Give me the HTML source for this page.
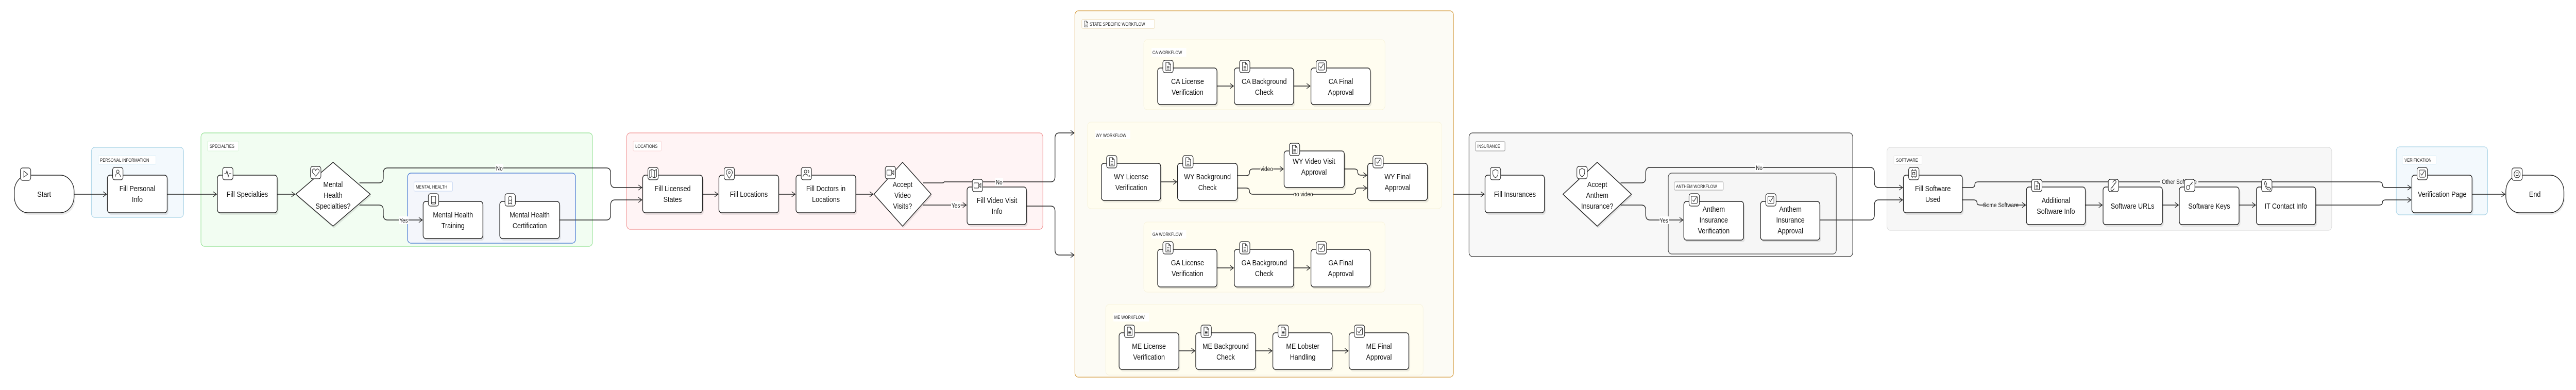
<!DOCTYPE html>
<html><head><meta charset="utf-8"><style>
html,body{margin:0;padding:0;background:#fff;width:100%;height:100%;overflow:hidden;}
svg{display:block;width:100vw;height:100vh;font-family:"Liberation Sans",sans-serif;}
.n{fill:#fff;stroke:#222;stroke-width:1.5}
.sh{fill:#000;opacity:.08}
.t{font-size:15px;fill:#111;text-anchor:middle}
.tg{fill:#fff;stroke:#222;stroke-width:1.2}
.ic{fill:none;stroke:#222;stroke-width:1.1}
.e{fill:none;stroke:#222;stroke-width:1.5}
.el{font-size:12px;fill:#111;text-anchor:middle}
.lb{font-size:9px;fill:#222}
</style></head><body>
<svg viewBox="0 0 5948 757" preserveAspectRatio="none" xmlns="http://www.w3.org/2000/svg">
<defs>
<marker id="a" markerWidth="10" markerHeight="12" refX="9" refY="6" orient="auto" markerUnits="userSpaceOnUse"><path d="M1,1 L9,6 L1,11" fill="none" stroke="#222" stroke-width="1.3"/></marker>
<symbol id="doc" viewBox="0 0 24 24"><path class="ic" d="M7,4 H14 L18,8 V20 H7 Z M14,4 V8 H18 M9.5,12 H15 M9.5,14.5 H15 M9.5,17 H15"/></symbol>
<symbol id="chk" viewBox="0 0 24 24"><rect class="ic" x="5" y="5" width="14" height="14" rx="2"/><path class="ic" d="M8,12 L11,15 L17,7"/></symbol>
<symbol id="shd" viewBox="0 0 24 24"><path class="ic" d="M12,4 L18,6.5 V12 Q18,17 12,20 Q6,17 6,12 V6.5 Z"/></symbol>
</defs>

<rect x="211" y="286" width="213" height="136" rx="8" fill="#f3f9fd" stroke="#a9d3e6" stroke-width="1.2"/>
<rect x="227" y="302" width="133" height="17" rx="2" fill="#fff" stroke="#dbeef7"/><text class="lb" x="231" y="314">PERSONAL INFORMATION</text>

<rect x="464" y="258" width="904" height="220" rx="8" fill="#f2fdf2" stroke="#8fe08f" stroke-width="1.2"/>
<rect x="479" y="274" width="72" height="19" rx="2" fill="#fff" stroke="#d8f5d8"/><text class="lb" x="484" y="287">SPECIALTIES</text>

<rect x="1447" y="258" width="961" height="187" rx="8" fill="#fff4f5" stroke="#f09090" stroke-width="1.2"/>
<rect x="1462" y="274" width="65" height="19" rx="2" fill="#fff" stroke="#f8d4d4"/><text class="lb" x="1467" y="287">LOCATIONS</text>

<rect x="2482" y="21" width="874" height="711" rx="8" fill="#fcfbf5" stroke="#d49a3e" stroke-width="1.3"/>
<rect x="2498" y="38" width="168" height="17" rx="2" fill="#fff" stroke="#ecd7ae"/>
<use href="#doc" x="2499" y="37" width="17" height="19"/><text class="lb" x="2516" y="50">STATE SPECIFIC WORKFLOW</text>

<rect x="2641" y="77" width="557" height="136" rx="8" fill="#fffdf0" stroke="#f7f3dc"/>
<rect x="2659" y="93" width="80" height="17" fill="#fff"/><text class="lb" x="2661" y="105">CA WORKFLOW</text>
<rect x="2511" y="237" width="818" height="168" rx="8" fill="#fffdf0" stroke="#f7f3dc"/>
<rect x="2528" y="253" width="82" height="17" fill="#fff"/><text class="lb" x="2530" y="266">WY WORKFLOW</text>
<rect x="2641" y="431" width="557" height="136" rx="8" fill="#fffdf0" stroke="#f7f3dc"/>
<rect x="2659" y="446" width="80" height="17" fill="#fff"/><text class="lb" x="2661" y="458">GA WORKFLOW</text>
<rect x="2553" y="591" width="733" height="137" rx="8" fill="#fffdf0" stroke="#f7f3dc"/>
<rect x="2571" y="607" width="82" height="17" fill="#fff"/><text class="lb" x="2573" y="619">ME WORKFLOW</text>

<rect x="3392" y="258" width="886" height="240" rx="8" fill="#f8f8f8" stroke="#333" stroke-width="1.3"/>
<rect x="3407" y="275" width="68" height="18" rx="2" fill="#fff" stroke="#888"/><text class="lb" x="3411" y="287">INSURANCE</text>

<rect x="4357" y="286" width="1027" height="161" rx="8" fill="#f7f7f7" stroke="#ddd" stroke-width="1.2"/>
<rect x="4373" y="302" width="65" height="17" rx="2" fill="#fff" stroke="#e6e6e6"/><text class="lb" x="4378" y="314">SOFTWARE</text>

<rect x="5533" y="285" width="211" height="132" rx="8" fill="#f3f9fd" stroke="#a9d3e6" stroke-width="1.2"/>
<rect x="5547" y="302" width="78" height="17" rx="2" fill="#fff" stroke="#dbeef7"/><text class="lb" x="5552" y="314">VERIFICATION</text>

<g class="e" marker-end="url(#a)">
<path d="M171,377 H246"/>
<path d="M386,377 H500"/>
<path d="M639,377 H681"/>
<path d="M830,355 H875 Q885,355 885,345 V336 Q885,326 895,326 H1400 Q1410,326 1410,336 V354 Q1410,364 1420,364 H1482"/>
<path d="M830,398 H875 Q885,398 885,408 V417 Q885,427 895,427 H975"/>
<path d="M1115,427 H1152"/>
<path d="M1292,427 H1400 Q1410,427 1410,417 V398 Q1410,388 1420,388 H1482"/>
<path d="M1622,377 H1658"/>
<path d="M1798,377 H1836"/>
<path d="M1975,377 H2016"/>
<path d="M2131,355 H2175 Q2180,355 2180,353 H2426 Q2436,353 2436,343 V268 Q2436,258 2446,258 H2480"/>
<path d="M2131,398 H2231"/>
<path d="M2370,400 H2426 Q2436,400 2436,410 V485 Q2436,495 2446,495 H2480"/>
<path d="M3356,377 H3427"/>
<path d="M3742,355 H3790 Q3800,355 3800,345 V335 Q3800,325 3810,325 H4318 Q4328,325 4328,335 V354 Q4328,364 4338,364 H4393"/>
<path d="M3742,398 H3790 Q3800,398 3800,408 V417 Q3800,427 3810,427 H3886"/>
<path d="M4202,427 H4318 Q4328,427 4328,417 V398 Q4328,388 4338,388 H4393"/>
<path d="M4531,364 H4552 Q4560,364 4560,358 Q4560,353 4568,353 H5493 Q5501,353 5501,359 Q5501,364 5509,364 H5567"/>
<path d="M4531,388 H4557 Q4565,388 4565,394 Q4565,398 4573,398 H4677"/>
<path d="M4815,398 H4854"/>
<path d="M4993,398 H5030"/>
<path d="M5170,398 H5208"/>
<path d="M5347,398 H5493 Q5501,398 5501,393 Q5501,388 5509,388 H5567"/>
<path d="M5708,377 H5784"/>
<path d="M2810,167 H2848"/><path d="M2987,167 H3025"/>
<path d="M2810,520 H2848"/><path d="M2987,520 H3025"/>
<path d="M2722,681 H2759"/><path d="M2899,681 H2937"/><path d="M3076,681 H3113"/>
<path d="M2680,353 H2717"/>
<path d="M2857,341 H2877 Q2885,341 2885,335 Q2885,328 2893,328 H2963"/>
<path d="M2857,365 H2877 Q2885,365 2885,371 Q2885,377 2893,377 H3122 Q3130,377 3130,371 Q3130,365 3138,365 H3156"/>
<path d="M3104,328 H3127 Q3135,328 3135,334 Q3135,340 3143,340 H3156"/>
</g>

<rect x="941" y="336" width="388" height="136" rx="8" fill="#f4f6fb" stroke="#3a6fd0" stroke-width="1.3"/>
<rect x="956" y="353" width="89" height="18" rx="2" fill="#fff" stroke="#c4d4f2"/><text class="lb" x="960" y="366">MENTAL HEALTH</text>
<path class="e" d="M941,427 H975" marker-end="url(#a)"/>
<path class="e" d="M1292,427 H1329"/>
<rect x="3852" y="336" width="388" height="157" rx="8" fill="#f6f6f6" stroke="#444" stroke-width="1.3"/>
<rect x="3866" y="353" width="113" height="16" rx="2" fill="#fff" stroke="#999"/><text class="lb" x="3870" y="365">ANTHEM WORKFLOW</text>
<path class="e" d="M3852,427 H3886" marker-end="url(#a)"/>
<path class="e" d="M4202,427 H4240"/>

<g>
<rect x="1144" y="318" width="18" height="16" fill="#fff"/><text class="el" x="1153" y="331">No</text>
<rect x="921" y="420" width="22" height="15" fill="#fff"/><text class="el" x="932" y="432">Yes</text>
<rect x="2298" y="345" width="18" height="16" fill="#fff"/><text class="el" x="2307" y="358">No</text>
<rect x="2196" y="391" width="22" height="15" fill="#fff"/><text class="el" x="2207" y="403">Yes</text>
<rect x="4053" y="317" width="18" height="16" fill="#fff"/><text class="el" x="4062" y="330">No</text>
<rect x="3832" y="420" width="22" height="15" fill="#fff"/><text class="el" x="3842" y="432">Yes</text>
<rect x="4988" y="345" width="88" height="16" fill="#f7f7f7"/><text class="el" x="5032" y="357">Other Software</text>
<rect x="4587" y="390" width="66" height="15" fill="#f7f7f7"/><text class="el" x="4620" y="402">Some Software</text>
<rect x="2910" y="320" width="30" height="15" fill="#fffdf0"/><text class="el" x="2925" y="332">video</text>
<rect x="2988" y="370" width="42" height="14" fill="#fffdf0"/><text class="el" x="3009" y="381">no video</text>
</g>

<g transform="translate(33,340)"><rect class="sh" x="3" y="4" width="138" height="73" rx="32"/><rect class="n" width="138" height="73" rx="32"/>
<rect class="tg" x="14" y="-14" width="24" height="24" rx="5"/><path class="ic" d="M22,-8 L31,-2 L22,4 Z"/>
<text class="t" x="69" y="42">Start</text></g>

<g transform="translate(248,340)"><rect class="sh" x="3" y="4" width="138" height="73" rx="6"/><rect class="n" width="138" height="73" rx="6"/>
<rect class="tg" x="12" y="-15" width="24" height="24" rx="5"/><circle class="ic" cx="24" cy="-7" r="3"/><path class="ic" d="M18,4 Q18,-3 24,-3 Q30,-3 30,4"/>
<text class="t" x="69" y="31">Fill Personal</text><text class="t" x="69" y="52">Info</text></g>

<g transform="translate(502,340)"><rect class="sh" x="3" y="4" width="138" height="73" rx="6"/><rect class="n" width="138" height="73" rx="6"/>
<rect class="tg" x="12" y="-15" width="24" height="24" rx="5"/><path class="ic" d="M16,-3 H20 L22,-9 L25,3 L27,-3 H32"/>
<text class="t" x="69" y="42">Fill Specialties</text></g>

<g><path d="M771,318 L857,381 L771,443 L685,381 Z" class="sh"/><path class="n" d="M769,315 L855,377 L769,439 L683,377 Z"/>
<rect class="tg" x="717" y="323" width="24" height="24" rx="5"/><path class="ic" d="M729,342 L722,335 Q719,330 724,328 Q727,327 729,331 Q731,327 734,328 Q739,330 736,335 Z"/>
<text class="t" x="769" y="363">Mental</text><text class="t" x="769" y="384">Health</text><text class="t" x="769" y="405">Specialties?</text></g>

<g transform="translate(977,391)"><rect class="sh" x="3" y="4" width="138" height="72" rx="6"/><rect class="n" width="138" height="72" rx="6"/>
<rect class="tg" x="12" y="-15" width="24" height="24" rx="5"/><rect class="ic" x="19" y="-10" width="10" height="15" rx="1.5"/><path class="ic" d="M19,2 H29"/>
<text class="t" x="69" y="31">Mental Health</text><text class="t" x="69" y="52">Training</text></g>
<g transform="translate(1154,391)"><rect class="sh" x="3" y="4" width="138" height="72" rx="6"/><rect class="n" width="138" height="72" rx="6"/>
<rect class="tg" x="12" y="-15" width="24" height="24" rx="5"/><circle class="ic" cx="24" cy="-6" r="4"/><path class="ic" d="M21,-3 L20,5 L24,3 L28,5 L27,-3"/>
<text class="t" x="69" y="31">Mental Health</text><text class="t" x="69" y="52">Certification</text></g>

<g transform="translate(1484,340)"><rect class="sh" x="3" y="4" width="138" height="73" rx="6"/><rect class="n" width="138" height="73" rx="6"/>
<rect class="tg" x="12" y="-15" width="24" height="24" rx="5"/><path class="ic" d="M16,-9 L21,-11 L27,-9 L32,-11 V3 L27,5 L21,3 L16,5 Z M21,-11 V3 M27,-9 V5"/>
<text class="t" x="69" y="31">Fill Licensed</text><text class="t" x="69" y="52">States</text></g>
<g transform="translate(1660,340)"><rect class="sh" x="3" y="4" width="138" height="73" rx="6"/><rect class="n" width="138" height="73" rx="6"/>
<rect class="tg" x="12" y="-15" width="24" height="24" rx="5"/><path class="ic" d="M24,6 Q17,-2 17,-5 Q17,-11 24,-11 Q31,-11 31,-5 Q31,-2 24,6 Z"/><circle class="ic" cx="24" cy="-5" r="2"/>
<text class="t" x="69" y="42">Fill Locations</text></g>
<g transform="translate(1838,340)"><rect class="sh" x="3" y="4" width="138" height="73" rx="6"/><rect class="n" width="138" height="73" rx="6"/>
<rect class="tg" x="12" y="-15" width="24" height="24" rx="5"/><circle class="ic" cx="22" cy="-7" r="3"/><path class="ic" d="M16,4 Q16,-2 22,-2 Q28,-2 28,4 M27,-10 Q31,-9 29,-4 M30,0 Q32,1 32,4"/>
<text class="t" x="69" y="31">Fill Doctors in</text><text class="t" x="69" y="52">Locations</text></g>

<g><path d="M2086,318 L2152,381 L2086,443 L2020,381 Z" class="sh"/><path class="n" d="M2084,315 L2150,377 L2084,439 L2018,377 Z"/>
<rect class="tg" x="2044" y="323" width="24" height="24" rx="5"/><rect class="ic" x="2048" y="330" width="11" height="10" rx="1.5"/><path class="ic" d="M2059,335 L2064,331 V339 Z"/>
<text class="t" x="2084" y="363">Accept</text><text class="t" x="2084" y="384">Video</text><text class="t" x="2084" y="405">Visits?</text></g>

<g transform="translate(2233,363)"><rect class="sh" x="3" y="4" width="137" height="73" rx="6"/><rect class="n" width="137" height="73" rx="6"/>
<rect class="tg" x="12" y="-15" width="24" height="24" rx="5"/><rect class="ic" x="16" y="-8" width="11" height="10" rx="1.5"/><path class="ic" d="M27,-3 L32,-7 V1 Z"/>
<text class="t" x="69" y="31">Fill Video Visit</text><text class="t" x="69" y="52">Info</text></g>

<g transform="translate(2673,132)"><rect class="sh" x="3" y="4" width="137" height="71" rx="6"/><rect class="n" width="137" height="71" rx="6"/><rect class="tg" x="12" y="-15" width="24" height="24" rx="5"/><use href="#doc" x="12" y="-15" width="24" height="24"/><text class="t" x="69" y="31">CA License</text><text class="t" x="69" y="52">Verification</text></g>
<g transform="translate(2850,132)"><rect class="sh" x="3" y="4" width="137" height="71" rx="6"/><rect class="n" width="137" height="71" rx="6"/><rect class="tg" x="12" y="-15" width="24" height="24" rx="5"/><use href="#doc" x="12" y="-15" width="24" height="24"/><text class="t" x="69" y="31">CA Background</text><text class="t" x="69" y="52">Check</text></g>
<g transform="translate(3027,132)"><rect class="sh" x="3" y="4" width="137" height="71" rx="6"/><rect class="n" width="137" height="71" rx="6"/><rect class="tg" x="12" y="-15" width="24" height="24" rx="5"/><use href="#chk" x="12" y="-15" width="24" height="24"/><text class="t" x="69" y="31">CA Final</text><text class="t" x="69" y="52">Approval</text></g>
<g transform="translate(2543,317)"><rect class="sh" x="3" y="4" width="137" height="72" rx="6"/><rect class="n" width="137" height="72" rx="6"/><rect class="tg" x="12" y="-15" width="24" height="24" rx="5"/><use href="#doc" x="12" y="-15" width="24" height="24"/><text class="t" x="69" y="31">WY License</text><text class="t" x="69" y="52">Verification</text></g>
<g transform="translate(2719,317)"><rect class="sh" x="3" y="4" width="138" height="72" rx="6"/><rect class="n" width="138" height="72" rx="6"/><rect class="tg" x="12" y="-15" width="24" height="24" rx="5"/><use href="#doc" x="12" y="-15" width="24" height="24"/><text class="t" x="69" y="31">WY Background</text><text class="t" x="69" y="52">Check</text></g>
<g transform="translate(2965,293)"><rect class="sh" x="3" y="4" width="139" height="71" rx="6"/><rect class="n" width="139" height="71" rx="6"/><rect class="tg" x="12" y="-15" width="24" height="24" rx="5"/><use href="#doc" x="12" y="-15" width="24" height="24"/><text class="t" x="69" y="25">WY Video Visit</text><text class="t" x="69" y="46">Approval</text></g>
<g transform="translate(3158,317)"><rect class="sh" x="3" y="4" width="138" height="72" rx="6"/><rect class="n" width="138" height="72" rx="6"/><rect class="tg" x="12" y="-15" width="24" height="24" rx="5"/><use href="#chk" x="12" y="-15" width="24" height="24"/><text class="t" x="69" y="31">WY Final</text><text class="t" x="69" y="52">Approval</text></g>
<g transform="translate(2673,484)"><rect class="sh" x="3" y="4" width="137" height="73" rx="6"/><rect class="n" width="137" height="73" rx="6"/><rect class="tg" x="12" y="-15" width="24" height="24" rx="5"/><use href="#doc" x="12" y="-15" width="24" height="24"/><text class="t" x="69" y="31">GA License</text><text class="t" x="69" y="52">Verification</text></g>
<g transform="translate(2850,484)"><rect class="sh" x="3" y="4" width="137" height="73" rx="6"/><rect class="n" width="137" height="73" rx="6"/><rect class="tg" x="12" y="-15" width="24" height="24" rx="5"/><use href="#doc" x="12" y="-15" width="24" height="24"/><text class="t" x="69" y="31">GA Background</text><text class="t" x="69" y="52">Check</text></g>
<g transform="translate(3027,484)"><rect class="sh" x="3" y="4" width="137" height="73" rx="6"/><rect class="n" width="137" height="73" rx="6"/><rect class="tg" x="12" y="-15" width="24" height="24" rx="5"/><use href="#chk" x="12" y="-15" width="24" height="24"/><text class="t" x="69" y="31">GA Final</text><text class="t" x="69" y="52">Approval</text></g>
<g transform="translate(2584,646)"><rect class="sh" x="3" y="4" width="138" height="71" rx="6"/><rect class="n" width="138" height="71" rx="6"/><rect class="tg" x="12" y="-15" width="24" height="24" rx="5"/><use href="#doc" x="12" y="-15" width="24" height="24"/><text class="t" x="69" y="31">ME License</text><text class="t" x="69" y="52">Verification</text></g>
<g transform="translate(2761,646)"><rect class="sh" x="3" y="4" width="138" height="71" rx="6"/><rect class="n" width="138" height="71" rx="6"/><rect class="tg" x="12" y="-15" width="24" height="24" rx="5"/><use href="#doc" x="12" y="-15" width="24" height="24"/><text class="t" x="69" y="31">ME Background</text><text class="t" x="69" y="52">Check</text></g>
<g transform="translate(2939,646)"><rect class="sh" x="3" y="4" width="137" height="71" rx="6"/><rect class="n" width="137" height="71" rx="6"/><rect class="tg" x="12" y="-15" width="24" height="24" rx="5"/><use href="#doc" x="12" y="-15" width="24" height="24"/><text class="t" x="69" y="31">ME Lobster</text><text class="t" x="69" y="52">Handling</text></g>
<g transform="translate(3115,646)"><rect class="sh" x="3" y="4" width="138" height="71" rx="6"/><rect class="n" width="138" height="71" rx="6"/><rect class="tg" x="12" y="-15" width="24" height="24" rx="5"/><use href="#chk" x="12" y="-15" width="24" height="24"/><text class="t" x="69" y="31">ME Final</text><text class="t" x="69" y="52">Approval</text></g>

<g transform="translate(3429,340)"><rect class="sh" x="3" y="4" width="137" height="73" rx="6"/><rect class="n" width="137" height="73" rx="6"/><rect class="tg" x="12" y="-15" width="24" height="24" rx="5"/><use href="#shd" x="12" y="-15" width="24" height="24"/><text class="t" x="69" y="42">Fill Insurances</text></g>
<g><path d="M3690,318 L3769,381 L3690,443 L3611,381 Z" class="sh"/><path class="n" d="M3688,315 L3767,377 L3688,439 L3609,377 Z"/>
<rect class="tg" x="3641" y="323" width="24" height="24" rx="5"/><use href="#shd" x="3641" y="323" width="24" height="24"/>
<text class="t" x="3688" y="363">Accept</text><text class="t" x="3688" y="384">Anthem</text><text class="t" x="3688" y="405">Insurance?</text></g>
<g transform="translate(3888,391)"><rect class="sh" x="3" y="4" width="138" height="75" rx="6"/><rect class="n" width="138" height="75" rx="6"/><rect class="tg" x="12" y="-15" width="24" height="24" rx="5"/><use href="#chk" x="12" y="-15" width="24" height="24"/><text class="t" x="69" y="20">Anthem</text><text class="t" x="69" y="41">Insurance</text><text class="t" x="69" y="62">Verification</text></g>
<g transform="translate(4065,391)"><rect class="sh" x="3" y="4" width="137" height="75" rx="6"/><rect class="n" width="137" height="75" rx="6"/><rect class="tg" x="12" y="-15" width="24" height="24" rx="5"/><use href="#chk" x="12" y="-15" width="24" height="24"/><text class="t" x="69" y="20">Anthem</text><text class="t" x="69" y="41">Insurance</text><text class="t" x="69" y="62">Approval</text></g>

<g transform="translate(4395,340)"><rect class="sh" x="3" y="4" width="136" height="73" rx="6"/><rect class="n" width="136" height="73" rx="6"/><rect class="tg" x="12" y="-15" width="24" height="24" rx="5"/><rect class="ic" x="18" y="-9" width="12" height="12" rx="1"/><rect class="ic" x="21.5" y="-5.5" width="5" height="5"/><path class="ic" d="M21,-12 V-9 M27,-12 V-9 M21,3 V6 M27,3 V6"/><text class="t" x="68" y="31">Fill Software</text><text class="t" x="68" y="52">Used</text></g>
<g transform="translate(4679,363)"><rect class="sh" x="3" y="4" width="136" height="73" rx="6"/><rect class="n" width="136" height="73" rx="6"/><rect class="tg" x="12" y="-15" width="24" height="24" rx="5"/><use href="#doc" x="12" y="-15" width="24" height="24"/><text class="t" x="68" y="31">Additional</text><text class="t" x="68" y="52">Software Info</text></g>
<g transform="translate(4856,363)"><rect class="sh" x="3" y="4" width="137" height="73" rx="6"/><rect class="n" width="137" height="73" rx="6"/><rect class="tg" x="12" y="-15" width="24" height="24" rx="5"/><path class="ic" d="M22,-1 L19,2 Q17,4 19,6 Q21,8 23,6 L26,3 M26,-5 L29,-8 Q31,-10 29,-12 Q27,-14 25,-12 L22,-9 M21,1 L27,-7"/><text class="t" x="68" y="42">Software URLs</text></g>
<g transform="translate(5032,363)"><rect class="sh" x="3" y="4" width="138" height="73" rx="6"/><rect class="n" width="138" height="73" rx="6"/><rect class="tg" x="12" y="-15" width="24" height="24" rx="5"/><circle class="ic" cx="20" cy="1" r="4"/><path class="ic" d="M23,-2 L31,-10 M28,-7 L30,-5"/><text class="t" x="69" y="42">Software Keys</text></g>
<g transform="translate(5210,363)"><rect class="sh" x="3" y="4" width="137" height="73" rx="6"/><rect class="n" width="137" height="73" rx="6"/><rect class="tg" x="12" y="-15" width="24" height="24" rx="5"/><path class="ic" d="M18,-9 L21,-11 L24,-6 L22,-4 Q24,0 27,2 L29,0 L33,3 L31,6 Q22,6 18,-9 Z"/><text class="t" x="68" y="42">IT Contact Info</text></g>

<g transform="translate(5569,340)"><rect class="sh" x="3" y="4" width="139" height="73" rx="6"/><rect class="n" width="139" height="73" rx="6"/><rect class="tg" x="12" y="-15" width="24" height="24" rx="5"/><use href="#chk" x="12" y="-15" width="24" height="24"/><text class="t" x="70" y="42">Verification Page</text></g>
<g transform="translate(5786,340)"><rect class="sh" x="3" y="4" width="133" height="73" rx="32"/><rect class="n" width="134" height="73" rx="32"/>
<rect class="tg" x="14" y="-14" width="24" height="24" rx="5"/><circle class="ic" cx="26" cy="-2" r="7"/><rect class="ic" x="23.5" y="-4.5" width="5" height="5"/>
<text class="t" x="67" y="42">End</text></g>
</svg>
</body></html>
